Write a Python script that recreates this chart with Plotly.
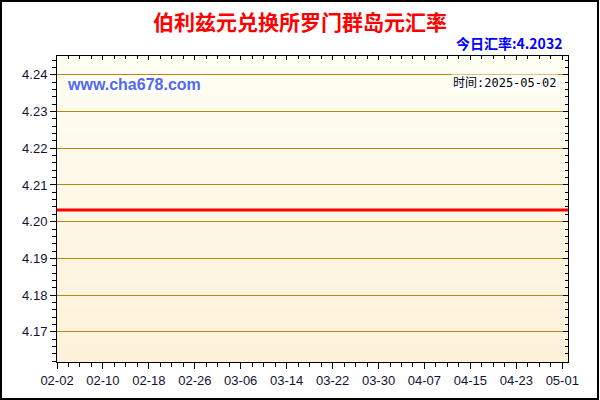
import plotly.graph_objects as go
import pandas as pd

title = "伯利兹元兑换所罗门群岛元汇率"
today_label = "今日汇率:4.2032"
date_label = "时间:2025-05-02"
site = "www.cha678.com"

dates = pd.date_range("2025-02-02", "2025-05-02", freq="D")
rates = [
    4.2032, 4.2032, 4.2032, 4.2032, 4.2032, 4.2032, 4.2032, 4.2032, 4.2032, 4.2032,
    4.2032, 4.2032, 4.2032, 4.2032, 4.2032, 4.2032, 4.2032, 4.2032, 4.2032, 4.2032,
    4.2032, 4.2032, 4.2032, 4.2032, 4.2032, 4.2032, 4.2032, 4.2032, 4.2032, 4.2032,
    4.2032, 4.2032, 4.2032, 4.2032, 4.2032, 4.2032, 4.2032, 4.2032, 4.2032, 4.2032,
    4.2032, 4.2032, 4.2032, 4.2032, 4.2032, 4.2032, 4.2032, 4.2032, 4.2032, 4.2032,
    4.2032, 4.2032, 4.2032, 4.2032, 4.2032, 4.2032, 4.2032, 4.2032, 4.2032, 4.2032,
    4.2032, 4.2032, 4.2032, 4.2032, 4.2032, 4.2032, 4.2032, 4.2032, 4.2032, 4.2032,
    4.2032, 4.2032, 4.2032, 4.2032, 4.2032, 4.2032, 4.2032, 4.2032, 4.2032, 4.2032,
    4.2032, 4.2032, 4.2032, 4.2032, 4.2032, 4.2032, 4.2032, 4.2032, 4.2032, 4.2032,
]
y_range = [4.1618, 4.2451]

W, H = 600, 400
L, R, T, B = 57, 32, 56, 38
pw, ph = W - L - R, H - T - B

fig = go.Figure()
fig.add_trace(go.Scatter(x=dates, y=rates, mode="lines",
                         line=dict(color="#ff0000", width=3), showlegend=False))
# invisible copy so the top/right mirror axes get drawn
fig.add_trace(go.Scatter(x=dates, y=rates, mode="lines", xaxis="x2", yaxis="y2",
                         line=dict(color="rgba(0,0,0,0)", width=0),
                         showlegend=False, hoverinfo="skip"))

# vertical gradient background
n = 40
top = (255, 254, 243)
bot = (253, 241, 217)
for i in range(n):
    f = (i + 0.5) / n
    c = tuple(round(top[k] + (bot[k] - top[k]) * f) for k in range(3))
    fig.add_shape(type="rect", xref="x domain", yref="y domain",
                  x0=0, x1=1, y0=1 - (i + 1) / n, y1=1 - i / n + 0.002,
                  fillcolor="rgb(%d,%d,%d)" % c, line=dict(width=0), layer="below")

# outer frame
fig.add_shape(type="rect", xref="paper", yref="paper",
              x0=(-L + 1) / pw, x1=(pw + R - 2) / pw,
              y0=(-B + 1) / ph, y1=(ph + T - 1) / ph,
              line=dict(color="black", width=2))

tickfont = dict(family="Liberation Sans, Arial", size=13, color="#111133")
xcommon = dict(type="date", range=[dates[0], dates[-1]], tick0="2025-02-02",
               dtick=8 * 86400000, showgrid=False, zeroline=False,
               showline=True, linecolor="black", linewidth=1)
ycommon = dict(range=y_range, dtick=0.01, tick0=4.17, showline=True,
               linecolor="black", linewidth=1, zeroline=False)

fig.update_layout(
    width=W, height=H,
    margin=dict(l=L, r=R, t=T, b=B),
    paper_bgcolor="white",
    plot_bgcolor="rgba(0,0,0,0)",
    xaxis=dict(**xcommon, tickformat="%m-%d", ticks="outside", ticklen=6,
               tickcolor="black", tickfont=tickfont,
               minor=dict(dtick=2 * 86400000, ticks="outside", ticklen=4,
                          tickcolor="black")),
    yaxis=dict(**ycommon, tickformat=".2f", ticks="outside", ticklen=6,
               tickcolor="black", tickfont=tickfont,
               showgrid=True, gridcolor="#b8860b", gridwidth=1,
               minor=dict(dtick=0.002, ticks="outside", ticklen=4,
                          tickcolor="black", showgrid=False)),
    xaxis2=dict(**xcommon, overlaying="x", side="top", showticklabels=False,
                ticks="inside", ticklen=4, tickcolor="black",
                minor=dict(dtick=2 * 86400000, ticks="inside", ticklen=3,
                           tickcolor="black")),
    yaxis2=dict(**ycommon, overlaying="y", side="right", showticklabels=False,
                showgrid=False, ticks="inside", ticklen=5, tickcolor="black",
                minor=dict(dtick=0.002, ticks="inside", ticklen=3,
                           tickcolor="black")),
)

fig.add_annotation(text="<b>%s</b>" % title, xref="paper", yref="paper",
                   x=(300 - L) / pw, y=(ph + T - 21) / ph, xanchor="center",
                   yanchor="middle", showarrow=False,
                   font=dict(family="Noto Sans CJK SC", size=21, color="#ff0000"))
fig.add_annotation(text="<b>%s</b>" % today_label, xref="paper", yref="paper",
                   x=(564 - L) / pw, y=(ph + T - 43) / ph, xanchor="right",
                   yanchor="middle", showarrow=False,
                   font=dict(family="Noto Sans CJK SC", size=14, color="#0000ff"))
fig.add_annotation(text="<b>%s</b>" % site, xref="paper", yref="paper",
                   x=(66 - L) / pw, y=(ph + T - 84) / ph, xanchor="left",
                   yanchor="middle", showarrow=False, bgcolor="white", borderpad=0,
                   font=dict(family="Liberation Sans, Arial", size=16, color="#4f6af0"))
fig.add_annotation(text=date_label, xref="paper", yref="paper",
                   x=(558 - L) / pw, y=(ph + T - 83) / ph, xanchor="right",
                   yanchor="middle", showarrow=False, bgcolor="white", borderpad=1,
                   font=dict(family="DejaVu Sans Mono, Noto Sans CJK SC", size=12,
                             color="black"))

fig.write_html("out.html", config={"displayModeBar": False},
               post_script="document.body.style.margin='0px';")
